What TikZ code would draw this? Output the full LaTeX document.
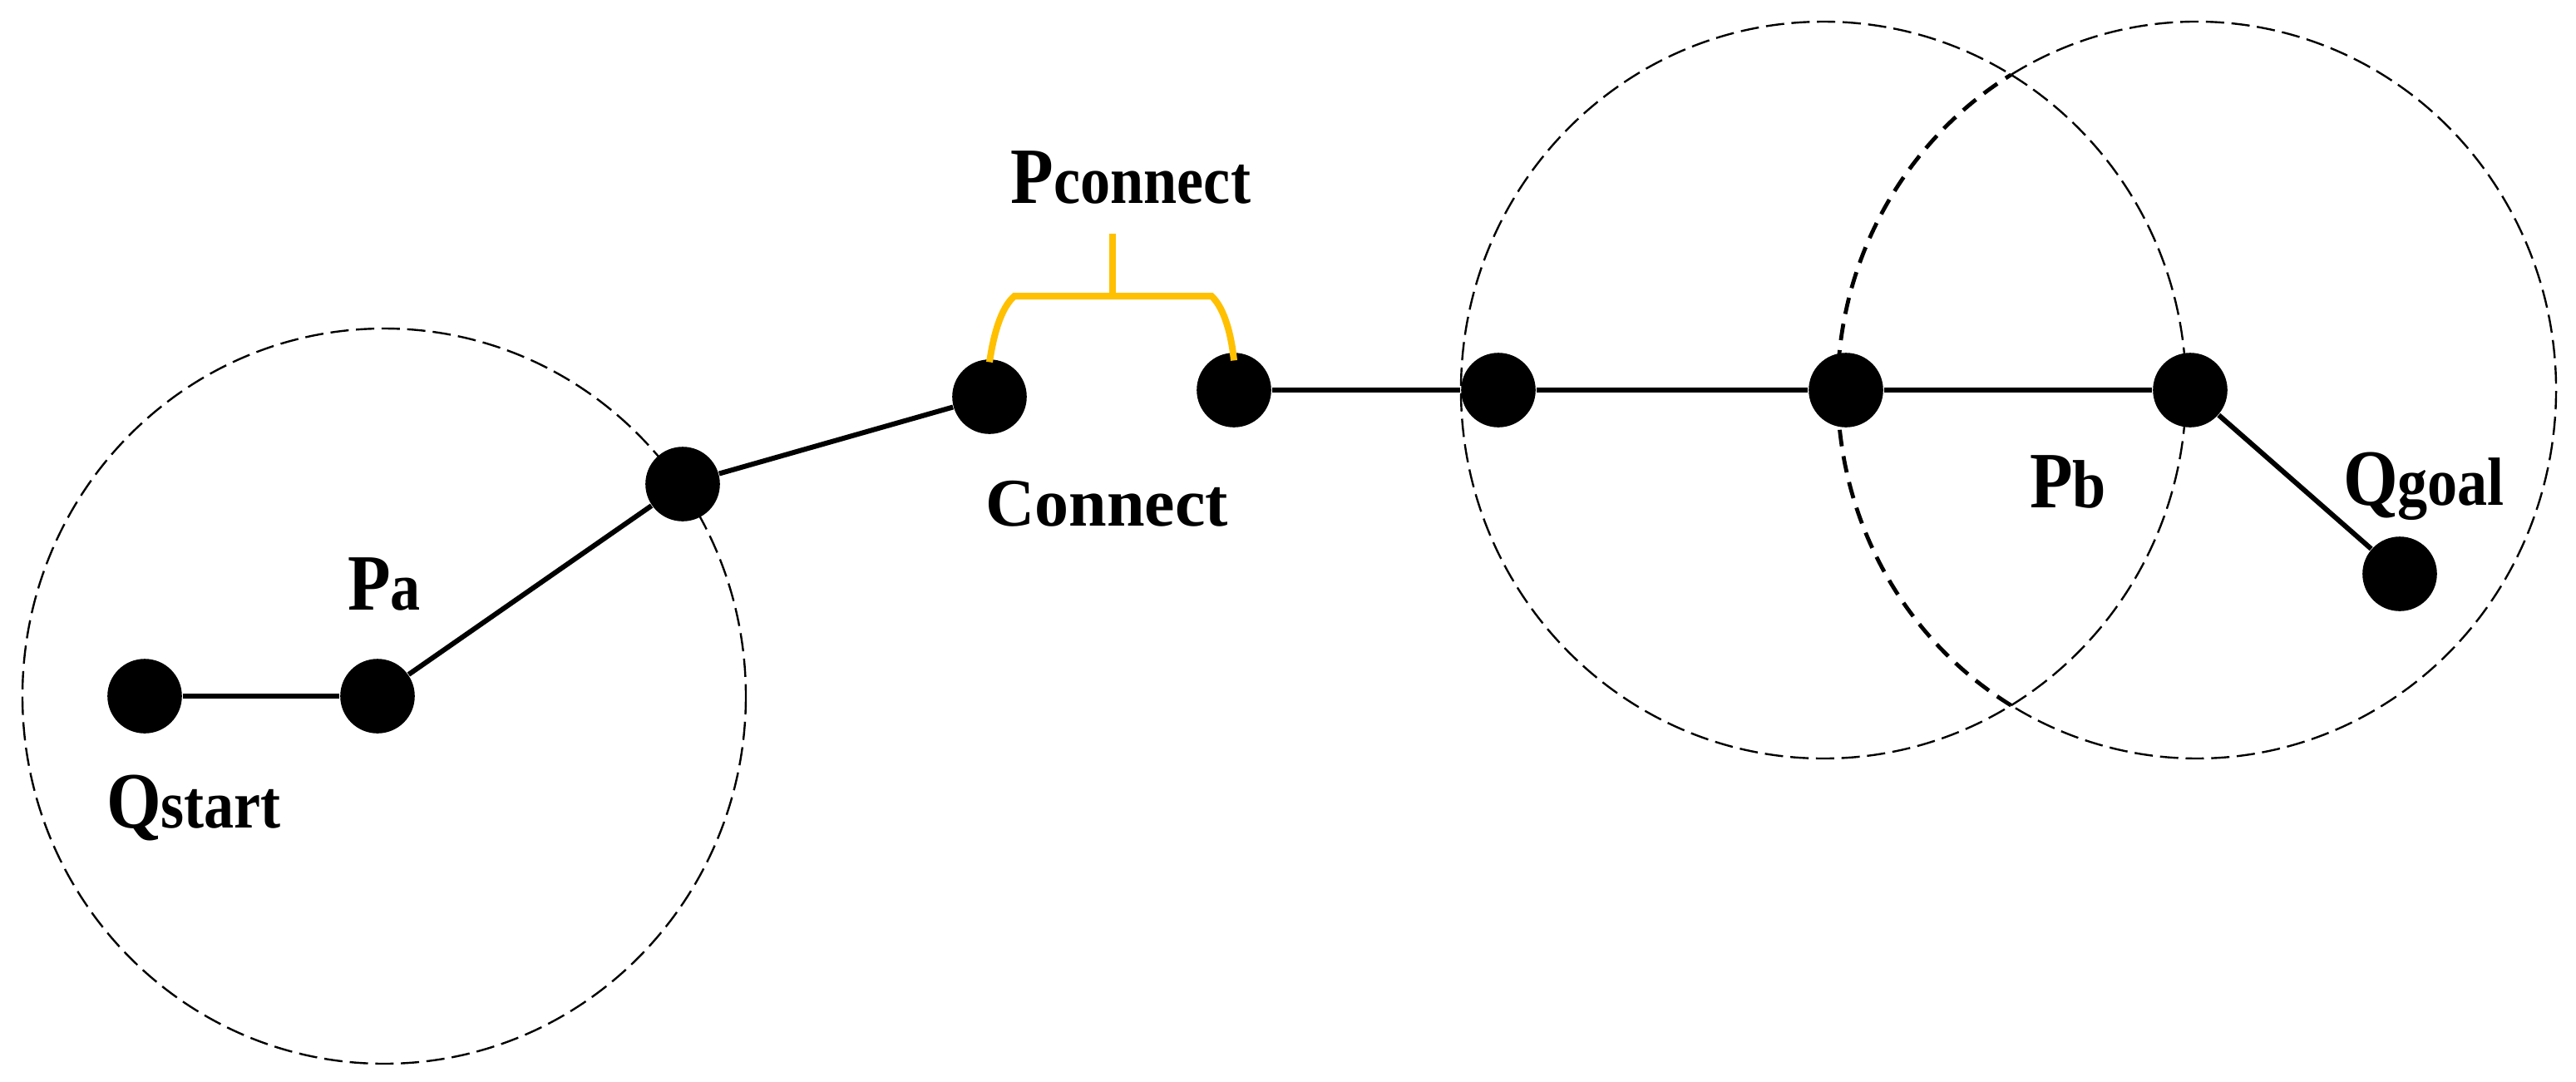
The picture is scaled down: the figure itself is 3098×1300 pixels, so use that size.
\documentclass[tikz,border=0pt]{standalone}
\usepackage{fontspec}
\setmainfont{Liberation Serif}[FakeStretch=0.88]
\newfontfamily\plainserif{Liberation Serif}
\definecolor{bracketorange}{RGB}{255,192,0}
\newcommand{\mylbl}[2]{{\fontsize{24}{28}\selectfont #1}{\fontsize{20.5}{24}\selectfont #2}}
\begin{document}
\begin{tikzpicture}[x=0.25pt,y=-0.25pt,
  dot/.style={circle,fill=black,draw=none,minimum size=22.4pt,inner sep=0pt},
  edge/.style={line width=1.5pt},
  zone/.style={line width=0.6pt,dash pattern=on 5.5pt off 2.2pt},
  zonebold/.style={line width=1.2pt,dash pattern=on 5pt off 3pt},
  bracket/.style={line width=2pt,draw=bracketorange},
  lab/.style={inner sep=0pt,anchor=base,font=\bfseries}]
\useasboundingbox (0,0) rectangle (3098,1300);
% dashed zones
\draw[zone] (462,837) ellipse [x radius=435, y radius=442];
\draw[zone] (2193,469) ellipse [x radius=436, y radius=443];
\draw[zone] (2642,469) ++(-121.15:432 and 443) arc[start angle=-121.15, end angle=121.15, x radius=432, y radius=443];
\draw[zonebold] (2642,469) ++(121.15:432 and 443) arc[start angle=121.15, end angle=238.85, x radius=432, y radius=443];
% nodes
\node[dot] (qs) at (174,837) {};
\node[dot] (pa) at (454,837) {};
\node[dot] (n3) at (821,582) {};
\node[dot] (n4) at (1190,477) {};
\node[dot] (n5) at (1484,469) {};
\node[dot] (n6) at (1802,469) {};
\node[dot] (n7) at (2220,469) {};
\node[dot] (n8) at (2634,469) {};
\node[dot] (qg) at (2886,690) {};
% edges
\draw[edge] (qs) -- (pa);
\draw[edge] (pa) -- (n3);
\draw[edge] (n3) -- (n4);
\draw[edge] (n5) -- (n6);
\draw[edge] (n6) -- (n7);
\draw[edge] (n7) -- (n8);
\draw[edge] (n8) -- (qg);
% bracket
\coordinate (bl) at (1220,356);
\coordinate (br) at (1457,356);
\coordinate (bm) at (1338,356);
\coordinate (bs) at (1338,281);
\draw[bracket] ([yshift=-1pt]n4.north) .. controls (1196,395) and (1206,368) .. (bl) -- (br) .. controls (1470,368) and (1480,395) .. ([yshift=-2.5pt]n5.north);
\draw[bracket] (bm) -- (bs);
% labels
\node[lab] (lpc) at (1360,244) {\mylbl{P}{connect}};
\node[lab,font=\plainserif\bfseries\fontsize{20.5}{24}\selectfont] (lcon) at (1331,632) {Connect};
\node[lab] (lqs) at (233,995) {\mylbl{Q}{start}};
\node[lab] (lpa) at (462,733) {\mylbl{P}{a}};
\node[lab] (lpb) at (2487,610) {\mylbl{P}{b}};
\node[lab] (lqg) at (2915,607) {\mylbl{Q}{goal}};
\end{tikzpicture}
\end{document}
